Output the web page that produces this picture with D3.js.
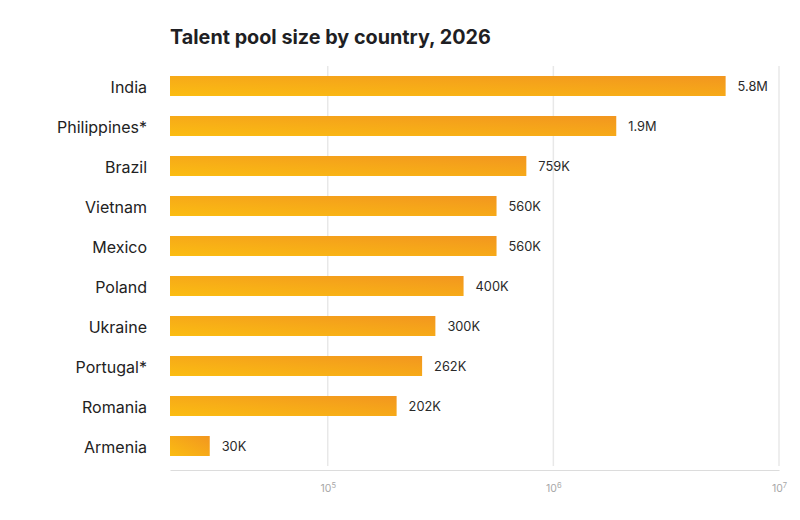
<!DOCTYPE html>
<html>
<head>
<meta charset="utf-8">
<script src="https://cdn.jsdelivr.net/npm/d3@7"></script>
<style>
  body { margin: 0; background: #fff; font-family: Inter, "Noto Sans", sans-serif; }
</style>
</head>
<body>
<div id="chart"></div>
<script>
// data
var countries = ["India", "Philippines*", "Brazil", "Vietnam", "Mexico", "Poland", "Ukraine", "Portugal*", "Romania", "Armenia"];
var talent = [5800000, 1900000, 759000, 560000, 560000, 400000, 300000, 262000, 202000, 30000];
var valueLabels = ["5.8M", "1.9M", "759K", "560K", "560K", "400K", "300K", "262K", "202K", "30K"];
var tickValues = [1e5, 1e6, 1e7];
var tickExponents = ["5", "6", "7"];

var width = 800, height = 520;
var margin = {top: 66, right: 21, bottom: 50, left: 170};

var svg = d3.select("#chart").append("svg")
  .attr("width", width)
  .attr("height", height);

var defs = svg.append("defs");
var grad = defs.append("linearGradient")
  .attr("id", "barGrad")
  .attr("x1", 0).attr("y1", 1)
  .attr("x2", 1).attr("y2", 0);
grad.append("stop").attr("offset", "0%").attr("stop-color", "#fbbd12");
grad.append("stop").attr("offset", "100%").attr("stop-color", "#f2961f");

var x = d3.scaleLog()
  .domain([20000, 1e7])
  .range([margin.left, width - margin.right]);

var y = d3.scaleBand()
  .domain(countries)
  .range([margin.top, margin.top + 40 * countries.length])
  .paddingInner(0.5)
  .paddingOuter(0.25);

// title
svg.append("text")
  .attr("x", margin.left)
  .attr("y", 44)
  .attr("font-size", 19.8)
  .attr("font-weight", 700)
  .attr("fill", "#1f1f24")
  .text("Talent pool size by country, 2026");

// gridlines
svg.append("g").selectAll("line")
  .data(tickValues)
  .enter().append("line")
  .attr("x1", function(d) { return x(d); })
  .attr("x2", function(d) { return x(d); })
  .attr("y1", margin.top)
  .attr("y2", margin.top + 400)
  .attr("stroke", "#e8e8e8")
  .attr("stroke-width", 1.5);

// x axis
var axis = svg.append("g")
  .attr("transform", "translate(0," + (margin.top + 404) + ")")
  .call(d3.axisBottom(x).tickValues(tickValues).tickSize(0).tickFormat(""));
axis.select(".domain").attr("stroke", "#dcdcdc").attr("stroke-width", 1.2);

var tickText = axis.selectAll(".tick").append("text")
  .attr("y", 22)
  .attr("text-anchor", "middle")
  .attr("fill", "#a8a8a8")
  .attr("font-size", 10.5)
  .attr("font-family", "Inter, sans-serif");
tickText.append("tspan").text("10");
tickText.append("tspan")
  .attr("dy", -4)
  .attr("font-size", 7.5)
  .text(function(d, i) { return tickExponents[i]; });

// bars
var rows = svg.append("g").selectAll("g")
  .data(countries)
  .enter().append("g");

rows.append("rect")
  .attr("x", x(20000))
  .attr("y", function(d) { return y(d); })
  .attr("height", y.bandwidth())
  .attr("width", function(d, i) { return x(talent[i]) - x(20000); })
  .attr("fill", "url(#barGrad)");

// category labels
rows.append("text")
  .attr("x", 147)
  .attr("y", function(d) { return y(d) + y.bandwidth() / 2; })
  .attr("dy", "0.42em")
  .attr("text-anchor", "end")
  .attr("font-size", 16)
  .attr("fill", "#222")
  .text(function(d) { return d; });

// value labels
rows.append("text")
  .attr("x", function(d, i) { return x(talent[i]) + 12; })
  .attr("y", function(d) { return y(d) + y.bandwidth() / 2; })
  .attr("dy", "0.37em")
  .attr("font-size", 12.8)
  .attr("fill", "#2a2a2a")
  .text(function(d, i) { return valueLabels[i]; });
</script>
</body>
</html>
